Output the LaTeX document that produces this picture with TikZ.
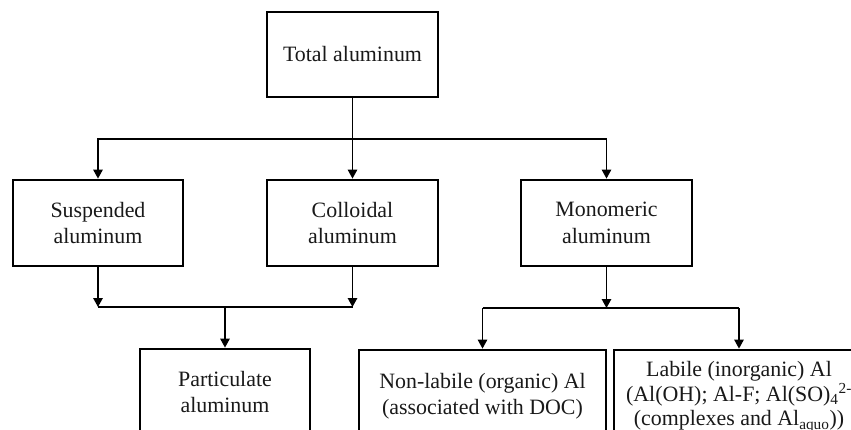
\documentclass[tikz,border=0pt]{standalone}
\usepackage{fontspec}
\setmainfont{Liberation Serif}
\usetikzlibrary{arrows.meta}
\begin{document}
\begin{tikzpicture}[x=1pt,y=-1pt,
  box/.style={draw=black,line width=2.8pt,align=center,inner sep=0pt,
    font=\fontsize{21.9}{26.5}\selectfont,text=black!90},
  conn/.style={draw=black,line width=1.4pt},
  arr/.style={conn,-{Triangle[width=9.5pt,length=9pt]}}]
\useasboundingbox (0,0) rectangle (851,430);
\clip (0,0) rectangle (851,430);
\node[box,minimum width=171pt,minimum height=85pt] (total) at (352.5,54.5) {Total aluminum};
\node[box,minimum width=170pt,minimum height=86pt] (susp) at (98,223) {Suspended\\aluminum};
\node[box,minimum width=171pt,minimum height=86pt] (coll) at (352.5,223) {Colloidal\\aluminum};
\node[box,minimum width=171pt,minimum height=86pt] (mono) at (606.5,223) {Monomeric\\aluminum};
\node[box,minimum width=170pt,minimum height=86pt] (part) at (225,392) {Particulate\\aluminum};
\node[box,minimum width=247pt,minimum height=92pt] (nonlab) at (482.5,396) {Non-labile (organic) Al\\(associated with DOC)};
\node[box,minimum width=250pt,minimum height=94pt,font=\fontsize{21.9}{24.5}\selectfont] (lab) at (739,397)
  {Labile (inorganic) Al\\(Al(OH); Al-F; Al(SO)\textsubscript{4}\textsuperscript{2-}\\(complexes and Al\textsubscript{aquo}))};
\coordinate (j1) at (352.5,139);
\coordinate (s1) at (98,307);
\coordinate (c1) at (352.5,307);
\coordinate (p1) at (225,307);
\coordinate (m1) at (606.5,308);
\coordinate (n1) at (482.5,308);
\coordinate (l1) at (739,308);
\draw[arr] (total) -- (coll);
\draw[arr] (j1) -| (susp);
\draw[arr] (j1) -| (mono);
\draw[arr] (susp) -- (s1);
\draw[arr] (coll) -- (c1);
\draw[conn] (s1) -- (c1);
\draw[arr] (p1) -- (part);
\draw[arr] (mono) -- (m1);
\draw[conn] (n1) -- (l1);
\draw[arr] (n1) -- (nonlab);
\draw[arr] (l1) -- (lab);
\end{tikzpicture}
\end{document}
